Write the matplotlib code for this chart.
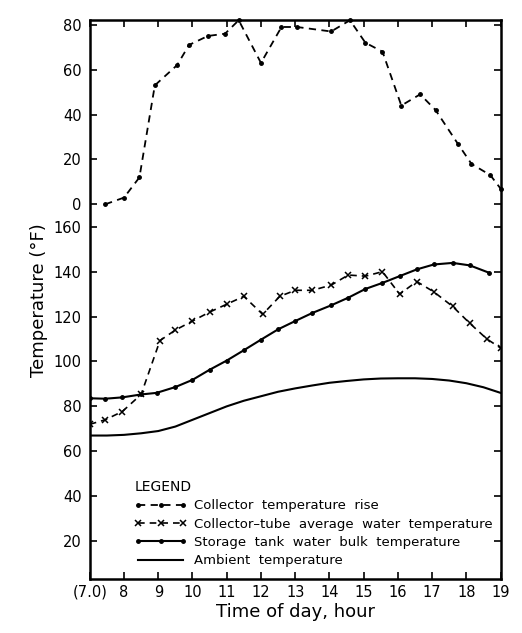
import numpy as np
import matplotlib
matplotlib.use("Agg")
import matplotlib.pyplot as plt

# upper panel: collector temperature rise (deg F), plotted on offset scale (0 -> 170)
rise_t = [7.45, 8.0, 8.45, 8.9, 9.55, 9.9, 10.45, 10.95, 11.35, 12.0, 12.6, 13.05,
          14.05, 14.6, 15.05, 15.55, 16.1, 16.65, 17.1, 17.75, 18.15, 18.7, 19.0]
rise_v = [0, 3, 12, 53, 62, 71, 75, 76, 82, 63, 79, 79,
          77, 82, 72, 68, 44, 49, 42, 27, 18, 13, 7]
offset = 170

# collector-tube average water temperature
tube_t = [7.0, 7.45, 7.95, 8.5, 9.05, 9.5, 10.0, 10.5, 11.0, 11.5, 12.05, 12.55, 13.0,
          13.5, 14.05, 14.55, 15.05, 15.55, 16.05, 16.55, 17.05, 17.6, 18.1, 18.6, 19.0]
tube_v = [72, 74, 77.7, 85.3, 109.3, 114, 118, 122, 125.5, 129, 121, 129, 131.7,
          131.7, 134, 138.5, 138, 140, 130, 135.6, 131, 124.5, 117, 110, 106]

# storage tank water bulk temperature
tank_t = [7.0, 7.45, 7.95, 8.5, 8.95, 9.5, 10.0, 10.5, 11.0, 11.5, 12.0, 12.5, 13.0,
          13.5, 14.05, 14.55, 15.05, 15.55, 16.05, 16.55, 17.05, 17.6, 18.1, 18.65]
tank_v = [83.6, 83.4, 84, 85.3, 86, 88.6, 91.8, 96.3, 100.4, 105, 109.7, 114.3, 118,
          121.6, 125, 128.4, 132.3, 135, 138, 141, 143.2, 143.9, 142.8, 139.6]

# ambient temperature
amb_t = [7.0, 7.5, 8.0, 8.5, 9.0, 9.5, 10.0, 10.5, 11.0, 11.5, 12.0, 12.5, 13.0,
         13.5, 14.0, 14.5, 15.0, 15.5, 16.0, 16.5, 17.0, 17.5, 18.0, 18.5, 19.0]
amb_v = [67, 67, 67.3, 68, 69, 71, 74, 77, 80, 82.5, 84.5, 86.5, 88,
         89.3, 90.5, 91.3, 92, 92.4, 92.5, 92.5, 92.2, 91.5, 90.3, 88.5, 86]

x_ticks = list(range(7, 20))
x_labels = ["(7.0)"] + [str(h) for h in range(8, 20)]
y_low = [20, 40, 60, 80, 100, 120, 140, 160]
y_up = [0, 20, 40, 60, 80]

plt.rcParams["font.family"] = "DejaVu Sans"

fig = plt.figure(figsize=(5.22, 6.33), dpi=100)
ax = fig.add_axes([0.172, 0.085, 0.787, 0.883])

ax.plot(rise_t, np.array(rise_v) + offset, "k--", marker="o", ms=2.5, lw=1.3,
        dashes=(4, 3), clip_on=False, label="Collector  temperature  rise")
ax.plot(tube_t, tube_v, "k--", marker="x", ms=5, mew=1.1, lw=1.2, dashes=(4, 3),
        label="Collector\u2013tube  average  water  temperature")
ax.plot(tank_t, tank_v, "k-", marker="o", ms=2.5, lw=1.5,
        label="Storage  tank  water  bulk  temperature")
ax.plot(amb_t, amb_v, "k-", lw=1.5, label="Ambient  temperature")

ax.set_xlim(7, 19)
ax.set_ylim(3, 252)
ax.set_xticks(x_ticks)
ax.set_xticklabels(x_labels)
ax.set_yticks(y_low + [v + offset for v in y_up])
ax.set_yticklabels([str(v) for v in y_low] + [str(v) for v in y_up])
ax.tick_params(direction="in", top=True, right=True, length=5, width=1.2,
               labelsize=10.5)
ax.tick_params(axis="x", pad=4)
ax.tick_params(axis="y", pad=6)
for s in ax.spines.values():
    s.set_linewidth(1.8)

ax.set_xlabel("Time of day, hour", fontsize=13, labelpad=2)
ax.set_ylabel("Temperature (\u00b0F)", fontsize=13, labelpad=4)

leg = ax.legend(loc="lower left", bbox_to_anchor=(0.08, 0.0), frameon=False,
                title="LEGEND", alignment="left", fontsize=9.5, handlelength=4,
                labelspacing=0.4, handletextpad=0.5, numpoints=3)
leg.get_title().set_fontsize(10)

fig.savefig("out.png", dpi=100)
